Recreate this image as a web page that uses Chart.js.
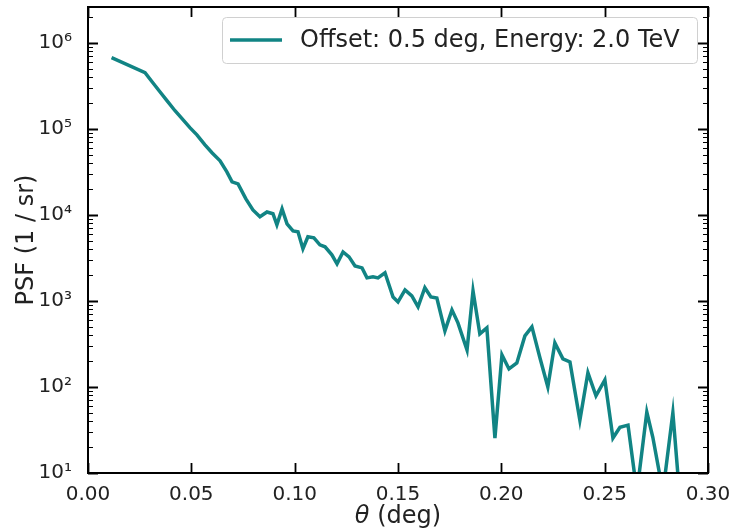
<!DOCTYPE html>
<html>
<head>
<meta charset="utf-8">
<script src="https://cdn.jsdelivr.net/npm/chart.js@4.4.0/dist/chart.umd.min.js"></script>
<style>
  html, body { margin: 0; padding: 0; background: #fff; }
  #psfChart { display: block; }
</style>
</head>
<body>
<canvas id="psfChart" width="736" height="531"></canvas>
<script>
// PSF profile
const thetaDeg = [
  0.0114, 0.0276, 0.0310, 0.0348, 0.0382, 0.0421, 0.0455, 0.0493, 0.0527, 0.0566,
  0.0600, 0.0639, 0.0672, 0.0697, 0.0726, 0.0764, 0.0798, 0.0832, 0.0866, 0.0895,
  0.0914, 0.0939, 0.0963, 0.0992, 0.1016, 0.1040, 0.1064, 0.1093, 0.1122, 0.1147,
  0.1180, 0.1205, 0.1234, 0.1263, 0.1292, 0.1326, 0.1350, 0.1379, 0.1403, 0.1437,
  0.1476, 0.1500, 0.1534, 0.1567, 0.1597, 0.1630, 0.1659, 0.1688, 0.1727, 0.1761,
  0.1790, 0.1834, 0.1863, 0.1896, 0.1930, 0.1969, 0.2003, 0.2037, 0.2075, 0.2114,
  0.2148, 0.2187, 0.2225, 0.2259, 0.2298, 0.2332, 0.2380, 0.2419, 0.2458, 0.2501,
  0.2540, 0.2574, 0.2613, 0.2656, 0.2704, 0.2733, 0.2782, 0.2830, 0.2864
];
const psfValues = [
  6.7e5, 4.48e5, 3.52e5, 2.69e5, 2.12e5, 1.62e5, 1.31e5, 1.03e5, 8.5e4, 6.5e4,
  5.26e4, 4.25e4, 3.16e4, 2.42e4, 2.29e4, 1.53e4, 1.14e4, 9.5e3, 1.08e4, 1.03e4,
  7.65e3, 1.17e4, 7.86e3, 6.5e3, 6.34e3, 4.03e3, 5.55e3, 5.4e3, 4.48e3, 4.25e3,
  3.43e3, 2.69e3, 3.71e3, 3.25e3, 2.55e3, 2.42e3, 1.85e3, 1.90e3, 1.85e3, 2.12e3,
  1.11e3, 973, 1.34e3, 1.14e3, 851, 1.42e3, 1.11e3, 1.08e3, 448, 786,
  555, 269, 1.31e3, 413, 485, 25.5, 236, 162, 190, 392,
  499, 217, 100, 325, 212, 195, 41, 146, 79, 121,
  25.5, 34, 36, 6, 51, 26, 6, 50, 5
];
const seriesLabel = 'Offset: 0.5 deg, Energy: 2.0 TeV';
const xTickValues = [0, 0.05, 0.10, 0.15, 0.20, 0.25, 0.30];
const yRange = [10, 2.6e6];

const lineColor = '#118484';
const fontFamily = '"DejaVu Sans", sans-serif';
const supDigits = { '0': '⁰', '1': '¹', '2': '²', '3': '³', '4': '⁴', '5': '⁵', '6': '⁶', '7': '⁷', '8': '⁸', '9': '⁹' };

function isPow10(v) {
  const e = Math.log10(v);
  return Math.abs(e - Math.round(e)) < 1e-9;
}
function isLogTick(v) {
  const m = v / Math.pow(10, Math.floor(Math.log10(v) + 1e-9));
  return Math.abs(m - Math.round(m)) < 1e-6;
}

// inward ticks on all four sides + black frame, matplotlib style
const frameTicks = {
  id: 'frameTicks',
  afterDatasetsDraw(chart) {
    const { ctx, chartArea: a, scales: { x, y } } = chart;
    ctx.save();
    ctx.strokeStyle = '#000';
    xTickValues.forEach(v => {
      const px = Math.round(x.getPixelForValue(v)) + 0.5;
      ctx.lineWidth = 1.8;
      ctx.beginPath();
      ctx.moveTo(px, a.bottom); ctx.lineTo(px, a.bottom - 10);
      ctx.moveTo(px, a.top); ctx.lineTo(px, a.top + 10);
      ctx.stroke();
    });
    y.ticks.forEach(t => {
      if (t.value < yRange[0] || t.value > yRange[1] || !isLogTick(t.value)) return;
      const py = Math.round(y.getPixelForValue(t.value)) + 0.5;
      const major = isPow10(t.value);
      const len = major ? 10 : 5;
      ctx.lineWidth = major ? 1.8 : 1.2;
      ctx.beginPath();
      ctx.moveTo(a.left, py); ctx.lineTo(a.left + len, py);
      ctx.moveTo(a.right, py); ctx.lineTo(a.right - len, py);
      ctx.stroke();
    });
    ctx.lineWidth = 2;
    ctx.strokeRect(a.left, a.top, a.right - a.left, a.bottom - a.top);
    ctx.restore();
  },
  afterDraw(chart) {
    const { ctx, chartArea: a } = chart;
    ctx.save();
    // legend box, upper right inside the axes
    const bx = 222, by = 17, bw = 475, bh = 46;
    ctx.fillStyle = 'rgba(255,255,255,0.85)';
    ctx.strokeStyle = '#d0d0d0';
    ctx.lineWidth = 1;
    ctx.beginPath();
    ctx.roundRect(bx + 0.5, by + 0.5, bw, bh, 4);
    ctx.fill();
    ctx.stroke();
    ctx.strokeStyle = lineColor;
    ctx.lineWidth = 3.5;
    ctx.beginPath();
    ctx.moveTo(bx + 8, by + 23); ctx.lineTo(bx + 60, by + 23);
    ctx.stroke();
    ctx.fillStyle = '#222';
    ctx.font = '24px ' + fontFamily;
    ctx.textBaseline = 'middle';
    ctx.fillText(chart.data.datasets[0].label, bx + 78, by + 24);
    // x axis title with italic theta
    ctx.textBaseline = 'alphabetic';
    const cx = (a.left + a.right) / 2;
    ctx.font = 'italic 24px ' + fontFamily;
    const w1 = ctx.measureText('θ').width;
    ctx.font = '24px ' + fontFamily;
    const w2 = ctx.measureText(' (deg)').width;
    const sx = cx - (w1 + w2) / 2;
    ctx.font = 'italic 24px ' + fontFamily;
    ctx.fillText('θ', sx, 523);
    ctx.font = '24px ' + fontFamily;
    ctx.fillText(' (deg)', sx + w1, 523);
    ctx.restore();
  }
};

const points = thetaDeg.map((t, i) => ({ x: t, y: psfValues[i] }));

new Chart(document.getElementById('psfChart'), {
  type: 'line',
  data: {
    datasets: [{
      label: seriesLabel,
      data: points,
      borderColor: lineColor,
      borderWidth: 3.5,
      pointRadius: 0,
      tension: 0,
      fill: false
    }]
  },
  options: {
    responsive: false,
    animation: false,
    layout: { padding: { top: 7, right: 28, left: 0, bottom: 0 } },
    plugins: { legend: { display: false }, tooltip: { enabled: false } },
    scales: {
      x: {
        type: 'linear',
        min: 0,
        max: 0.3,
        grid: { display: false },
        border: { display: false },
        afterBuildTicks: scale => { scale.ticks = xTickValues.map(v => ({ value: v })); },
        ticks: {
          padding: 2,
          color: '#222',
          font: { family: fontFamily, size: 20 },
          maxRotation: 0,
          autoSkip: false,
          callback: v => v.toFixed(2)
        },
        afterFit: scale => {
          scale.height = 58;
          scale.paddingLeft = 0;
          scale.paddingRight = 0;
        }
      },
      y: {
        type: 'logarithmic',
        min: yRange[0],
        max: yRange[1],
        grid: { display: false },
        border: { display: false },
        ticks: {
          padding: 8,
          color: '#222',
          font: { family: fontFamily, size: 20 },
          autoSkip: false,
          callback: v => isPow10(v) ? '10' + String(Math.round(Math.log10(v))).split('').map(d => supDigits[d]).join('') : ''
        },
        title: {
          display: true,
          text: 'PSF (1 / sr)',
          color: '#222',
          font: { family: fontFamily, size: 24 },
          padding: { top: 12, bottom: 0 }
        },
        afterFit: scale => {
          scale.width = 88;
          scale.paddingTop = 0;
          scale.paddingBottom = 0;
        }
      }
    }
  },
  plugins: [frameTicks]
});
</script>
</body>
</html>
